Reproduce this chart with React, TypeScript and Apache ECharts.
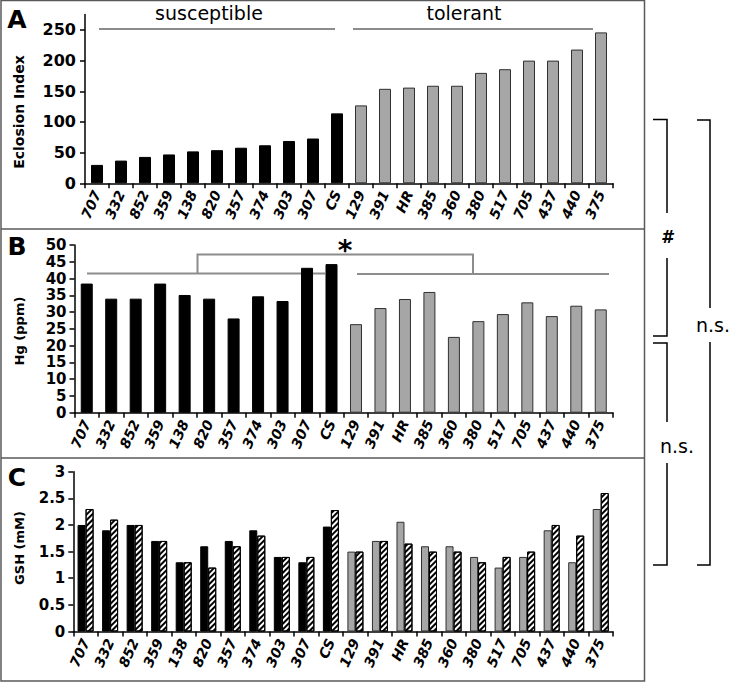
import React, { useEffect, useRef } from 'react';
import * as echarts from 'echarts';

const categories = ['707', '332', '852', '359', '138', '820', '357', '374', '303', '307', 'CS', '129', '391', 'HR', '385', '360', '380', '517', '705', '437', '440', '375'];
const susceptibleCount = 11;
const eclosionIndex = [30, 37, 43, 47, 52, 54, 58, 62, 69, 73, 114, 127, 154, 156, 159, 159, 180, 186, 200, 200, 218, 246];
const mercuryPpm = [38.5, 34, 34, 38.5, 35.1, 34, 28.1, 34.7, 33.3, 43.2, 44.3, 26.4, 31.2, 33.9, 36, 22.6, 27.3, 29.4, 32.9, 28.8, 31.9, 30.8];
const gshSolid = [2.0, 1.9, 2.0, 1.7, 1.3, 1.6, 1.7, 1.9, 1.4, 1.3, 1.97, 1.5, 1.7, 2.06, 1.6, 1.6, 1.4, 1.2, 1.4, 1.9, 1.3, 2.3];
const gshHatched = [2.3, 2.1, 2.0, 1.7, 1.3, 1.2, 1.6, 1.8, 1.4, 1.4, 2.28, 1.5, 1.7, 1.65, 1.5, 1.5, 1.3, 1.4, 1.5, 2.0, 1.8, 2.6];
const ticksA = [0, 50, 100, 150, 200, 250];

const FONT = 'DejaVu Sans';
const SUS = '#000000';
const TOL = '#a6a6a6';
const GREY_LINE = '#8c8c8c';

const axisLineStyle = { color: '#000', width: 1.5 };

function makeXAxis(gridIndex: number) {
  return {
    type: 'category',
    gridIndex,
    data: categories,
    boundaryGap: true,
    axisLine: { show: true, lineStyle: axisLineStyle },
    axisTick: { show: true, length: 5, lineStyle: axisLineStyle },
    axisLabel: {
      interval: 0,
      rotate: 66,
      margin: 8,
      fontFamily: FONT,
      fontWeight: 'bold',
      fontStyle: 'italic',
      fontSize: 14,
      color: '#000',
    },
    splitLine: { show: false },
  };
}

function coloredData(values: number[]) {
  return values.map((v, i) => ({
    value: v,
    itemStyle: {
      color: i < susceptibleCount ? SUS : TOL,
      borderColor: i < susceptibleCount ? '#000' : '#303030',
      borderWidth: 1,
    },
  }));
}

export default function App() {
  const ref = useRef<HTMLDivElement>(null);

  useEffect(() => {
    document.body.style.margin = '0';
    if (!ref.current) return;
    const chart = echarts.init(ref.current, null, { renderer: 'svg' });

    const yLabel = (size: number, margin: number) => ({
      fontFamily: FONT,
      fontWeight: 'bold',
      fontSize: size,
      color: '#000',
      margin,
    });

    const option: any = {
      animation: false,
      backgroundColor: '#ffffff',
      grid: [
        { left: 85, top: 14.6, width: 528, height: 168.7 },
        { left: 74.5, top: 245, width: 538.5, height: 167.7 },
        { left: 73.3, top: 471.7, width: 539.7, height: 159.8 },
      ],
      xAxis: [makeXAxis(0), makeXAxis(1), makeXAxis(2)],
      yAxis: [
        {
          type: 'value',
          gridIndex: 0,
          min: 0,
          max: 275,
          interval: 50,
          axisLine: { show: true, lineStyle: axisLineStyle },
          axisTick: { show: true, length: 5, lineStyle: axisLineStyle, customValues: ticksA },
          axisLabel: {
            ...yLabel(16, 9),
            customValues: ticksA,
            formatter: (v: number) => (v % 50 === 0 ? String(v) : ''),
          },
          splitLine: { show: false },
        },
        {
          type: 'value',
          gridIndex: 1,
          min: 0,
          max: 50,
          interval: 5,
          axisLine: { show: true, lineStyle: axisLineStyle },
          axisTick: { show: true, length: 5, lineStyle: axisLineStyle },
          axisLabel: yLabel(15, 8),
          splitLine: { show: false },
        },
        {
          type: 'value',
          gridIndex: 2,
          min: 0,
          max: 3,
          interval: 0.5,
          axisLine: { show: true, lineStyle: axisLineStyle },
          axisTick: { show: true, length: 5, lineStyle: axisLineStyle },
          axisLabel: yLabel(15, 8),
          splitLine: { show: false },
        },
      ],
      series: [
        {
          type: 'bar',
          name: 'Eclosion Index',
          xAxisIndex: 0,
          yAxisIndex: 0,
          barWidth: 12,
          data: coloredData(eclosionIndex),
        },
        {
          type: 'bar',
          name: 'Hg (ppm)',
          xAxisIndex: 1,
          yAxisIndex: 1,
          barWidth: 12,
          data: coloredData(mercuryPpm),
        },
        {
          type: 'bar',
          name: 'GSH',
          xAxisIndex: 2,
          yAxisIndex: 2,
          barWidth: 8,
          barGap: '0%',
          data: coloredData(gshSolid),
        },
        {
          type: 'bar',
          name: 'GSH hatched',
          xAxisIndex: 2,
          yAxisIndex: 2,
          barWidth: 8,
          barGap: '0%',
          itemStyle: {
            color: '#ffffff',
            borderColor: '#000',
            borderWidth: 1,
            decal: {
              symbol: 'rect',
              symbolSize: 1,
              color: '#000000',
              dashArrayX: [1, 0],
              dashArrayY: [2, 2],
              rotation: -Math.PI / 4,
            },
          },
          data: gshHatched,
        },
      ],
      graphic: [
        // panel frames
        {
          type: 'rect',
          silent: true,
          shape: { x: 1, y: 0.5, width: 643.5, height: 680.5 },
          style: { fill: 'none', stroke: '#595959', lineWidth: 1.5 },
        },
        { type: 'line', silent: true, shape: { x1: 1, y1: 229, x2: 644.5, y2: 229 }, style: { stroke: '#595959', lineWidth: 1.5 } },
        { type: 'line', silent: true, shape: { x1: 1, y1: 458, x2: 644.5, y2: 458 }, style: { stroke: '#595959', lineWidth: 1.5 } },
        // panel letters
        { type: 'text', x: 17, y: 19, style: { text: 'A', fontFamily: FONT, fontWeight: 'bold', fontSize: 25, fill: '#000', align: 'center', verticalAlign: 'middle' } },
        { type: 'text', x: 17, y: 246, style: { text: 'B', fontFamily: FONT, fontWeight: 'bold', fontSize: 25, fill: '#000', align: 'center', verticalAlign: 'middle' } },
        { type: 'text', x: 17, y: 477, style: { text: 'C', fontFamily: FONT, fontWeight: 'bold', fontSize: 25, fill: '#000', align: 'center', verticalAlign: 'middle' } },
        // y axis names
        { type: 'text', x: 19, y: 112, rotation: Math.PI / 2, style: { text: 'Eclosion Index', fontFamily: FONT, fontWeight: 'bold', fontSize: 14, fill: '#000', align: 'center', verticalAlign: 'middle' } },
        { type: 'text', x: 19, y: 331, rotation: Math.PI / 2, style: { text: 'Hg (ppm)', fontFamily: FONT, fontWeight: 'bold', fontSize: 13, fill: '#000', align: 'center', verticalAlign: 'middle' } },
        { type: 'text', x: 19, y: 548, rotation: Math.PI / 2, style: { text: 'GSH (mM)', fontFamily: FONT, fontWeight: 'bold', fontSize: 13, fill: '#000', align: 'center', verticalAlign: 'middle' } },
        // panel A group labels
        { type: 'text', x: 209, y: 13, style: { text: 'susceptible', fontFamily: FONT, fontSize: 19, fill: '#000', align: 'center', verticalAlign: 'middle' } },
        { type: 'text', x: 464, y: 13, style: { text: 'tolerant', fontFamily: FONT, fontSize: 19, fill: '#000', align: 'center', verticalAlign: 'middle' } },
        { type: 'line', silent: true, shape: { x1: 99, y1: 29, x2: 335, y2: 29 }, style: { stroke: GREY_LINE, lineWidth: 2 } },
        { type: 'line', silent: true, shape: { x1: 353, y1: 29, x2: 593, y2: 29 }, style: { stroke: GREY_LINE, lineWidth: 2 } },
        // panel B significance bracket
        { type: 'line', silent: true, shape: { x1: 87, y1: 273.5, x2: 325, y2: 273.5 }, style: { stroke: GREY_LINE, lineWidth: 2 } },
        { type: 'line', silent: true, shape: { x1: 357, y1: 274, x2: 609, y2: 274 }, style: { stroke: GREY_LINE, lineWidth: 2 } },
        {
          type: 'polyline',
          silent: true,
          shape: { points: [[197.5, 273.5], [197.5, 254.5], [473, 254.5], [473, 274]] },
          style: { stroke: GREY_LINE, lineWidth: 2, fill: 'none' },
        },
        { type: 'text', x: 345, y: 250, style: { text: '*', fontFamily: FONT, fontWeight: 'bold', fontSize: 28, fill: '#000', align: 'center', verticalAlign: 'middle' } },
        // right side brackets
        { type: 'polyline', silent: true, shape: { points: [[653, 119.5], [667, 119.5], [667, 213]] }, style: { stroke: '#000', lineWidth: 1.5, fill: 'none' } },
        { type: 'polyline', silent: true, shape: { points: [[667, 258], [667, 336], [653, 336]] }, style: { stroke: '#000', lineWidth: 1.5, fill: 'none' } },
        { type: 'text', x: 667, y: 237, style: { text: '#', fontFamily: FONT, fontWeight: 'bold', fontStyle: 'italic', fontSize: 17, fill: '#000', align: 'center', verticalAlign: 'middle' } },
        { type: 'polyline', silent: true, shape: { points: [[653, 343], [667, 343], [667, 422]] }, style: { stroke: '#000', lineWidth: 1.5, fill: 'none' } },
        { type: 'polyline', silent: true, shape: { points: [[667, 463], [667, 565], [653, 565]] }, style: { stroke: '#000', lineWidth: 1.5, fill: 'none' } },
        { type: 'text', x: 677, y: 446, style: { text: 'n.s.', fontFamily: FONT, fontSize: 19, fill: '#000', align: 'center', verticalAlign: 'middle' } },
        { type: 'polyline', silent: true, shape: { points: [[697, 120], [710, 120], [710, 308]] }, style: { stroke: '#000', lineWidth: 1.5, fill: 'none' } },
        { type: 'polyline', silent: true, shape: { points: [[710, 342], [710, 565], [697, 565]] }, style: { stroke: '#000', lineWidth: 1.5, fill: 'none' } },
        { type: 'text', x: 713, y: 325, style: { text: 'n.s.', fontFamily: FONT, fontSize: 19, fill: '#000', align: 'center', verticalAlign: 'middle' } },
      ],
    };

    chart.setOption(option);
    return () => {
      chart.dispose();
    };
  }, []);

  return <div ref={ref} style={{ position: 'absolute', left: 0, top: 0, width: 738, height: 684 }} />;
}
